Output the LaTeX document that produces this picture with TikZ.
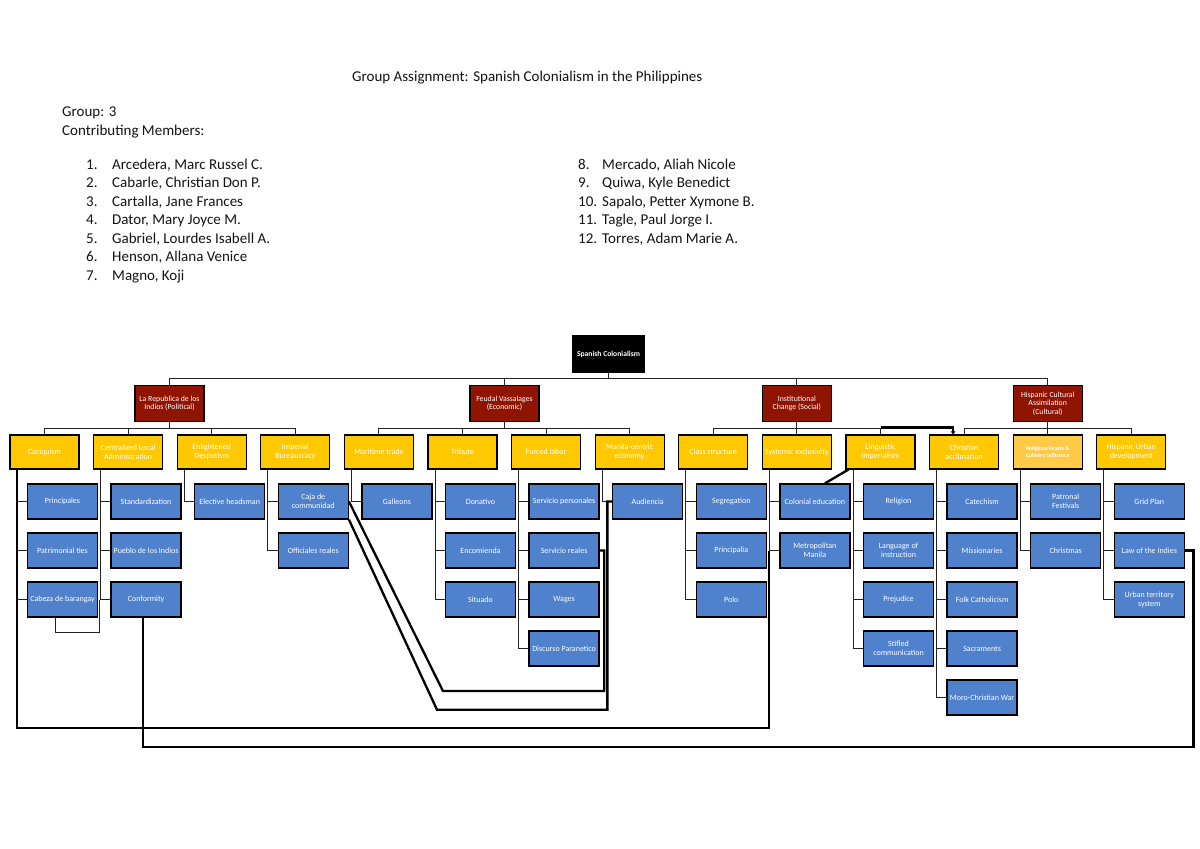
\documentclass[tikz,border=0pt]{standalone}
\usepackage{fontspec}
\setmainfont{Carlito}
\usetikzlibrary{arrows.meta}
\definecolor{redc}{RGB}{143,20,2}
\definecolor{yelc}{RGB}{255,200,0}
\definecolor{yeltwo}{RGB}{255,202,70}
\definecolor{bluec}{RGB}{79,129,205}
\definecolor{linec}{RGB}{35,35,35}
\definecolor{txtc}{RGB}{20,20,20}
\begin{document}
\begin{tikzpicture}[x=1pt,y=-1pt,
  box/.style={draw=black, line width=1.3pt, text=white, align=center, inner sep=0.5pt, anchor=center},
  rootbox/.style={box, fill=black, minimum width=71pt, minimum height=36pt, font=\fontsize{7.6}{8.6}\selectfont\bfseries},
  catbox/.style={box, fill=redc, minimum width=69pt, minimum height=36pt, font=\fontsize{7.8}{8.6}\selectfont},
  subbox/.style={box, fill=yelc, minimum width=69pt, minimum height=34pt, font=\fontsize{8}{8.8}\selectfont},
  leafbox/.style={box, fill=bluec, minimum width=70pt, minimum height=35pt, font=\fontsize{8}{8.8}\selectfont},
  conn/.style={draw=linec, line width=1pt},
  thickc/.style={draw=black, line width=2.3pt},
  hdr/.style={anchor=base west, inner sep=0pt, text=txtc, font=\fontsize{15}{17}\selectfont}]
\fill[white] (0,0) rectangle (1200,849);
\useasboundingbox (0,0) rectangle (1200,849);

% ---------- header ----------
\node[hdr] (title) at (352,81.5) {Group Assignment: Spanish Colonialism in the Philippines};
\node[hdr] (grp) at (62,116) {Group: 3};
\node[hdr] (cm) at (62,135) {Contributing Members:};
\foreach \n/\t [count=\k from 0] in {1./{Arcedera, Marc Russel C.},2./{Cabarle, Christian Don P.},3./{Cartalla, Jane Frances},4./{Dator, Mary Joyce M.},5./{Gabriel, Lourdes Isabell A.},6./{Henson, Allana Venice},7./{Magno, Koji}}{
  \node[hdr] (ln\k) at (86,169+18.5*\k) {\n};
  \node[hdr] (lt\k) at (112,169+18.5*\k) {\t};
}
\foreach \n/\t [count=\k from 0] in {8./{Mercado, Aliah Nicole},9./{Quiwa, Kyle Benedict},10./{Sapalo, Petter Xymone B.},11./{Tagle, Paul Jorge I.},12./{Torres, Adam Marie A.}}{
  \node[hdr] (rn\k) at (578,169+18.5*\k) {\n};
  \node[hdr] (rt\k) at (602,169+18.5*\k) {\t};
}

% ---------- tree ----------
\node[rootbox] (root) at (608.5,354) {Spanish Colonialism};

\node[catbox] (pol) at (169.5,403.5) {La Republica de los\\Indios (Political)};
\node[catbox] (eco) at (504.5,403.5) {Feudal Vassalages\\(Economic)};
\node[catbox] (soc) at (796.9,403.5) {Institutional\\Change (Social)};
\node[catbox] (cul) at (1047.7,403.5) {Hispanic Cultural\\Assimilation\\(Cultural)};

\node[subbox] (cac) at (44.5,452) {Caciquism};
\node[subbox] (cen) at (128.1,452) {Centralized Local\\Administration};
\node[subbox] (enl) at (211.7,452) {Enlightened\\Despotism};
\node[subbox] (imp) at (295.3,452) {Imperial\\Bureaucracy};
\node[subbox] (mar) at (378.9,452) {Maritime trade};
\node[subbox] (tri) at (462.5,452) {Tribute};
\node[subbox] (for) at (546.1,452) {Forced labor};
\node[subbox] (man) at (629.7,452) {Manila-centric\\economy};
\node[subbox] (cla) at (713.3,452) {Class structure};
\node[subbox] (sys) at (796.9,452) {Systemic exclusivity};
\node[subbox] (ling) at (880.5,452) {Linguistic\\imperialism};
\node[subbox] (chr) at (964.1,452) {Christian\\acclimation};
\node[subbox, fill=yeltwo, font=\fontsize{5.8}{7}\selectfont\bfseries] (rel) at (1047.7,452) {Religious Feasts \&\\Culinary Influence};
\node[subbox] (urbd) at (1131.3,452) {Hispanic Urban\\development};

% leaves
\node[leafbox] (prin) at (62.5,501.5) {Principales};
\node[leafbox] (patr) at (62.5,550.5) {Patrimonial ties};
\node[leafbox] (cab) at (62.5,599.5) {Cabeza de barangay};
\node[leafbox] (stand) at (146.1,501.5) {Standardization};
\node[leafbox] (pueb) at (146.1,550.5) {Pueblo de los Indios};
\node[leafbox] (conf) at (146.1,599.5) {Conformity};
\node[leafbox] (elec) at (229.7,501.5) {Elective headsman};
\node[leafbox] (caja) at (313.3,501.5) {Caja de\\communidad};
\node[leafbox] (offi) at (313.3,550.5) {Officiales reales};
\node[leafbox] (gall) at (396.9,501.5) {Galleons};
\node[leafbox] (dona) at (480.5,501.5) {Donativo};
\node[leafbox] (enco) at (480.5,550.5) {Encomienda};
\node[leafbox] (situ) at (480.5,599.5) {Situado};
\node[leafbox] (serp) at (564.1,501.5) {Servicio personales};
\node[leafbox] (serr) at (564.1,550.5) {Servicio reales};
\node[leafbox] (wage) at (564.1,599.5) {Wages};
\node[leafbox] (disc) at (564.1,648.5) {Discurso Paranetico};
\node[leafbox] (aud) at (647.7,501.5) {Audiencia};
\node[leafbox] (segr) at (731.3,501.5) {Segregation};
\node[leafbox] (prpa) at (731.3,550.5) {Principalia};
\node[leafbox] (polo) at (731.3,599.5) {Polo};
\node[leafbox] (coled) at (814.9,501.5) {Colonial education};
\node[leafbox] (metro) at (814.9,550.5) {Metropolitan\\Manila};
\node[leafbox] (reli) at (898.5,501.5) {Religion};
\node[leafbox] (lang) at (898.5,550.5) {Language of\\instruction};
\node[leafbox] (prej) at (898.5,599.5) {Prejudice};
\node[leafbox] (stif) at (898.5,648.5) {Stifled\\communication};
\node[leafbox] (cate) at (982.1,501.5) {Catechism};
\node[leafbox] (miss) at (982.1,550.5) {Missionaries};
\node[leafbox] (folk) at (982.1,599.5) {Folk Catholicism};
\node[leafbox] (sacr) at (982.1,648.5) {Sacraments};
\node[leafbox] (moro) at (982.1,697.5) {Moro-Christian War};
\node[leafbox] (patf) at (1065.7,501.5) {Patronal\\Festivals};
\node[leafbox] (xmas) at (1065.7,550.5) {Christmas};
\node[leafbox] (grid) at (1149.3,501.5) {Grid Plan};
\node[leafbox] (law) at (1149.3,550.5) {Law of the Indies};
\node[leafbox] (urb) at (1149.3,599.5) {Urban territory\\system};

% ---------- tree connectors ----------
\foreach \c in {pol,eco,soc,cul}
  \draw[conn] (root.south) -- ++(0,5.5) -| (\c.north);
\foreach \p/\c in {pol/cac,pol/cen,pol/enl,pol/imp,eco/mar,eco/tri,eco/for,eco/man,soc/cla,soc/sys,soc/ling,cul/chr,cul/rel,cul/urbd}
  \draw[conn] (\p.south) -- ++(0,6.5) -| (\c.north);
\foreach \p/\c in {cac/prin,cac/patr,cac/cab,cen/stand,cen/pueb,cen/conf,enl/elec,imp/caja,imp/offi,mar/gall,tri/dona,tri/enco,tri/situ,for/serp,for/serr,for/wage,for/disc,man/aud,cla/segr,cla/prpa,cla/polo,sys/coled,sys/metro,ling/reli,ling/lang,ling/prej,ling/stif,chr/cate,chr/miss,chr/folk,chr/sacr,chr/moro,rel/patf,rel/xmas,urbd/grid,urbd/law,urbd/urb}
  \draw[conn] ([xshift=-27.5pt]\p.south) |- (\c.west);

% ---------- extra links ----------
\draw[conn] ([xshift=-7.5pt]cab.south) -- ++(0,15) -| ([xshift=-11pt]conf.west);
\draw[thickc] ([xshift=-27.5pt]cac.south) -- ++(0,258) -| ([xshift=-10.5pt]metro.west);
\draw[thickc] ([xshift=-3pt]conf.south) -- ++(0,129.5) -| ([xshift=8.5pt]law.east) -- (law.east);
\draw[thickc] (caja.east) -- ++(94,189.5) -| ([xshift=4.4pt]serr.east) -- (serr.east);
\draw[thickc] (caja.south east) -- ++(88,190) -| ([xshift=-4.7pt]aud.west) -- (aud.west);
\draw[thickc] ([xshift=3pt]ling.south west) -- ([xshift=10pt]coled.north);
\draw[thickc, -{Triangle[length=3pt,width=4.5pt]}] (ling.north) ++(0,-7) -| ([xshift=-11pt]chr.north);
\end{tikzpicture}
\end{document}
